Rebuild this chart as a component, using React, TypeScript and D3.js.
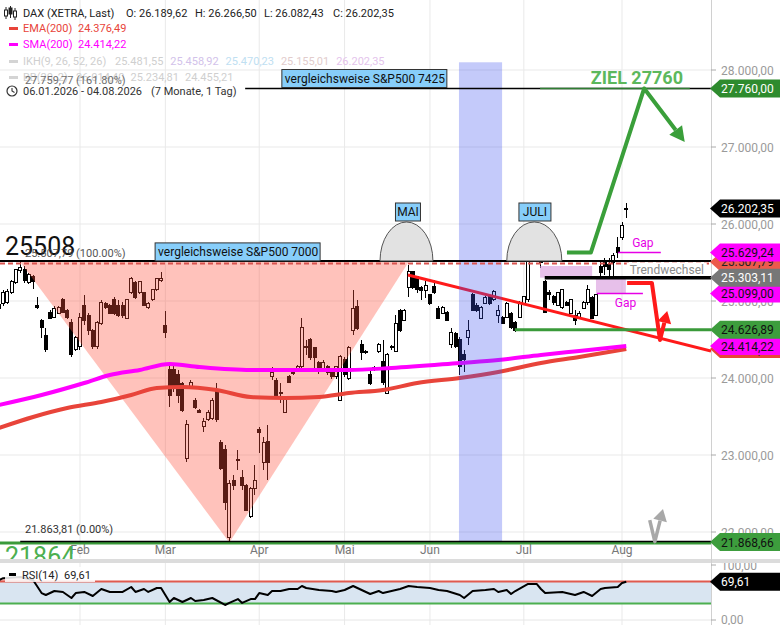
import React, { useEffect } from "react";
import * as d3 from "d3";

const FONT = "Roboto, 'Liberation Sans', Arial, sans-serif";

// ---- categories ----
const holidays = ["2026-04-03", "2026-04-06", "2026-05-01"];
const monthNames = ["Jan", "Feb", "Mar", "Apr", "Mai", "Jun", "Jul", "Aug", "Sep", "Okt", "Nov", "Dez"];

// ---- DAX daily candles [open, high, low, close] 06.01.2026 - 04.08.2026 ----
const ohlc: [number, number, number, number][] = [
  [24950, 25000, 24850, 24900], [24974, 25143, 24935, 25104], [24987, 25150, 24960, 25117], [25104, 25270, 25090, 25247],
  [25234, 25420, 25220, 25403], [25390, 25507.79, 25370, 25440], [25403, 25450, 25240, 25260], [25234, 25360, 25220, 25338],
  [25320, 25340, 25150, 25250], [24940, 25050, 24900, 24915], [24753, 24760, 24520, 24662], [24558, 24650, 24340, 24364],
  [24857, 24880, 24770, 24779], [24792, 24930, 24780, 24909], [24844, 24935, 24830, 24922], [25013, 25040, 24840, 24857],
  [24883, 24900, 24770, 24792], [24727, 24760, 24270, 24299], [24364, 24545, 24350, 24532], [24403, 24845, 24364, 24792],
  [24948, 25078, 24688, 24753], [24818, 24845, 24558, 24623], [24623, 24640, 24380, 24403], [24403, 24740, 24380, 24727],
  [24714, 25013, 24688, 24987], [24974, 24990, 24900, 24922], [24948, 24960, 24830, 24844], [25013, 25052, 24818, 24844],
  [24948, 25013, 24792, 24818], [24948, 24990, 24780, 24818], [24779, 25030, 24760, 25013], [25104, 25310, 25090, 25286],
  [25234, 25260, 25020, 25039], [25104, 25260, 25090, 25247], [25104, 25120, 24930, 24948], [24922, 24990, 24900, 24974],
  [25013, 25160, 25000, 25143], [25143, 25300, 25130, 25286], [25270, 25380, 25250, 25286], [24688, 24870, 24520, 24597],
  [24104, 24195, 23623, 23779], [24104, 24170, 23818, 23909], [24039, 24104, 23675, 23779], [23935, 23950, 23560, 23584],
  [22961, 23455, 22909, 23390], [23883, 23975, 23860, 23948], [23714, 23740, 23600, 23623], [23584, 23600, 23540, 23558],
  [23364, 23480, 23300, 23429], [23455, 23580, 23440, 23558], [23480, 23740, 23460, 23714], [23844, 23935, 23430, 23455],
  [23156, 23195, 22805, 22831], [23065, 23130, 22285, 22377], [21935, 22675, 21863.81, 22636], [22675, 22740, 22545, 22610],
  [22948, 23065, 22805, 22935], [22714, 22805, 22545, 22610], [22610, 22620, 22270, 22285], [22195, 22590, 22180, 22571],
  [22571, 22870, 22480, 22675], [23325, 23364, 23026, 23286], [22909, 23234, 22805, 23156], [23169, 23390, 22675, 22909],
  [24013, 24143, 23974, 24065], [23974, 24000, 23760, 23779], [23818, 23935, 23675, 23805], [23558, 23760, 23540, 23740],
  [24013, 24040, 23930, 23948], [24060, 24100, 24040, 24065], [24120, 24170, 24100, 24143], [24143, 24779, 24104, 24662],
  [24403, 24494, 24299, 24390], [24494, 24520, 24234, 24260], [24390, 24403, 24130, 24260], [24195, 24220, 24050, 24078],
  [24104, 24230, 24080, 24195], [24143, 24170, 24040, 24065], [24065, 24090, 23990, 24013], [24013, 24160, 23990, 24143],
  [23714, 24299, 23700, 24273], [24234, 24273, 24013, 24039], [24000, 24410, 23980, 24390], [24623, 25143, 24558, 24909],
  [24935, 25013, 24623, 24649], [24429, 24494, 24234, 24325], [24325, 24360, 24310, 24340], [24039, 24104, 23909, 23935],
  [24104, 24150, 24090, 24130], [24338, 24450, 24320, 24429], [24208, 24494, 23909, 23948], [23805, 24325, 23805, 24299],
  [24390, 24430, 24370, 24403], [24338, 24818, 24338, 24714], [24883, 24900, 24600, 24623], [24753, 24900, 24740, 24883],
  [25169, 25468, 25052, 25377], [25377, 25390, 25150, 25169], [25312, 25330, 25100, 25143], [25180, 25200, 25013, 25130],
  [25130, 25260, 25040, 25200], [25078, 25090, 24950, 24974], [25182, 25273, 25090, 25104], [24909, 24930, 24760, 24779],
  [24844, 24940, 24830, 24922], [24857, 24870, 24740, 24753], [24429, 24649, 24390, 24597], [24584, 24600, 24390, 24403],
  [24494, 24532, 24039, 24143], [24299, 24364, 24078, 24234], [24532, 24753, 24429, 24623], [25078, 25100, 24870, 24883],
  [24948, 24970, 24860, 24883], [24779, 24940, 24760, 24922], [24974, 25060, 24960, 25039], [25052, 25070, 24950, 24974],
  [25013, 25143, 25000, 25117], [24818, 24948, 24714, 24883], [24792, 24810, 24700, 24714], [24792, 24990, 24780, 24974],
  [24844, 24860, 24640, 24662], [24727, 24740, 24600, 24623], [24792, 25000, 24780, 24987], [24974, 25070, 24960, 25052],
  [25013, 25597, 24987, 25558], [25766, 25831, 25597, 25753], [25727, 25883, 25662, 25818], [25753, 25792, 25429, 25506],
  [25247, 25273, 24844, 24857], [25104, 25143, 25013, 25078], [25052, 25078, 24948, 24987], [24948, 25120, 24930, 25104],
  [24922, 25160, 24900, 25143], [24987, 25000, 24930, 24948], [24844, 25030, 24830, 25013], [24818, 24883, 24688, 24753],
  [24792, 24870, 24770, 24844], [24909, 25000, 24890, 24987], [24987, 25208, 24948, 25143], [25039, 25060, 24760, 24779],
  [24818, 25090, 24800, 25078], [25442, 25532, 25299, 25364], [25494, 25559, 25338, 25442], [25468, 25559, 25312, 25403],
  [25506, 25623, 25299, 25597], [25701, 25831, 25559, 25636], [25831, 26026, 25792, 25987], [26189.62, 26266.5, 26082.43, 26202.35],
];

// ---- indicators: [trading-day index, value] ----
const emaPts: [number, number][] = [
  [0, 23351], [8, 23494], [16, 23610], [24, 23688], [31, 23779], [37, 23870], [43, 23883], [51, 23844], [59, 23753],
  [67, 23740], [75, 23753], [82, 23805], [90, 23844], [98, 23935], [108, 24000], [117, 24078], [127, 24195], [136, 24273], [147, 24376.49],
];
const smaPts: [number, number][] = [
  [0, 23649], [10, 23779], [20, 23935], [26, 24039], [33, 24104], [40, 24182], [47, 24143], [59, 24104], [71, 24104],
  [82, 24104], [92, 24130], [108, 24195], [117, 24234], [127, 24299], [136, 24351], [147, 24414.22],
];
const rsiPts: [number, number][] = [
  [0, 72.7], [1, 76], [5, 78], [8, 72.7], [10, 49], [11, 45.5], [13, 52.7], [15, 51], [17, 40], [18, 49], [20, 51], [22, 43.6],
  [24, 56.4], [26, 51], [28, 51], [29, 51], [31, 60], [32, 51], [34, 56.4], [35, 51], [37, 58.2], [38, 58.2], [40, 32.7], [41, 40],
  [43, 32.7], [45, 40], [46, 34.5], [48, 36.4], [50, 40], [53, 27.3], [54, 31], [56, 38], [57, 31], [59, 38], [60, 38], [61, 49],
  [63, 45.5], [64, 52.7], [66, 52.7], [68, 56.4], [70, 56.4], [71, 61.8], [72, 58.2], [75, 54.5], [78, 52.7], [79, 51], [81, 54.5],
  [83, 61.8], [85, 54.5], [87, 47.3], [89, 52.7], [90, 49], [92, 52.7], [94, 56.4], [96, 61.8], [98, 60], [101, 58.2], [103, 54.5],
  [105, 52.7], [108, 45.5], [109, 40], [111, 52.7], [114, 54.5], [116, 56.4], [117, 51], [119, 54.5], [120, 47.3], [121, 52.7],
  [124, 65.5], [126, 65.5], [127, 56.4], [128, 49], [132, 51], [135, 45.5], [137, 51], [139, 43.6], [141, 56.4], [142, 58.2],
  [145, 60], [146, 67.3], [147, 69.61],
];

// ---- axes ----
const priceTicks = [22000, 23000, 24000, 25000, 26000, 27000, 28000];
const rsiTicks = [0, 100];
const rsiBands = [30, 70];

// ---- legend ----
const ikhValues = [25481.55, 25458.92, 25470.23, 25155.01, 26202.35];
const bbValues = [26014.4, 25234.81, 24455.21];

// ---- drawings (trading-day index, price) ----
const fibHigh: [number, number] = [5, 25507.79];
const fibLow: [number, number] = [54, 21863.81];
const fibExt = 27759.77;
const triangle: [number, number][] = [[5, 25507.79], [54, 21863.81], [96, 25507.79]];
const band = { i0: 107.8, i1: 117.9, top: 28100, bottom: 21868.66 };
const redTrend: [number, number][] = [[95.85, 25338], [166.85, 24351]];
const supportLevel = { v: 24626.89, i0: 120.9 };
const trendLevel = { v: 25303.11, i0: 127.9 };
const bottomLevel = 21868.66;
const zielLevel = { v: 27760, i0: 126.8, i1: 161.9 };
const greenPath: [number, number][] = [[133.1, 25629], [138.7, 25629], [151.2, 27760], [160.7, 27065]];
const redPath: [number, number][] = [[147.2, 25235], [153.0, 25235], [154.9, 24493], [156.6, 24870]];
const grayPath: [number, number][] = [[152.5, 22155], [153.7, 21875], [155.6, 22300]];
const gapLines = [{ i0: 145.1, i1: 155.1, v: 25629.24 }, { i0: 140.1, i1: 150.9, v: 25099 }];
const gapRects = [{ i0: 126.8, i1: 139.0, top: 25455, bottom: 25303.11 }, { i0: 139.9, i1: 146.9, top: 25290, bottom: 25099 }];
const arcs = [{ i0: 89.3, i1: 101.7, top: 26026, label: "MAI", li: 95.85 }, { i0: 119.0, i1: 131.9, top: 26026, label: "JULI", li: 125.6 }];
const spBoxes = [{ i0: 36.6, v: 25507.79, label: "vergleichsweise S&P500 7000" }, { i0: 66.3, v: 27759.77, label: "vergleichsweise S&P500 7425" }];
const markerValues = [24376.49, 24414.22, 24626.89, 25507.79, 25099.0, 25303.11, 25629.24, 26202.35, 27760.0, 21868.66];
const rsiLast = 69.61;

function tradingDays(): Date[] {
  const out: Date[] = [];
  const d = new Date(Date.UTC(2026, 0, 6));
  const end = Date.UTC(2026, 7, 4);
  while (d.getTime() <= end) {
    const wd = d.getUTCDay();
    const iso = d.toISOString().slice(0, 10);
    if (wd !== 0 && wd !== 6 && !holidays.includes(iso)) out.push(new Date(d.getTime()));
    d.setUTCDate(d.getUTCDate() + 1);
  }
  return out;
}

const loc = d3.formatLocale({ decimal: ",", thousands: ".", grouping: [3], currency: ["", ""] });
const fmt = loc.format(",.2f");

function arrow(pts: [number, number][], len: number, half: number) {
  const n = pts.length;
  const tip = pts[n - 1];
  const prev = pts[n - 2];
  const dx = tip[0] - prev[0], dy = tip[1] - prev[1];
  const L = Math.hypot(dx, dy);
  const ux = dx / L, uy = dy / L;
  const bx = tip[0] - ux * len, by = tip[1] - uy * len;
  const line = [...pts.slice(0, n - 1), [bx, by]];
  const head = [[tip[0], tip[1]], [bx - uy * half, by + ux * half], [bx + uy * half, by - ux * half]];
  return {
    line: line.map((p) => p.join(",")).join(" "),
    head: head.map((p) => p.join(",")).join(" "),
  };
}

export default function App() {
  useEffect(() => {
    document.body.style.margin = "0";
  }, []);

  const days = tradingDays();
  const PR = 711; // right edge of plot
  const MB = 558; // bottom of main panel
  const x = d3.scaleLinear().domain([0, 146]).range([-1.1, 622]);
  const y = d3.scaleLinear().domain([22000, 28000]).range([532, 70]);
  const yr = d3.scaleLinear().domain([0, 100]).range([620, 565]);

  const monthStarts = days
    .map((d, i) => ({ d, i }))
    .filter((o, k) => k > 0 && o.d.getUTCMonth() !== days[k - 1].getUTCMonth());

  const lineP = d3.line<[number, number]>().x((d) => x(d[0])).y((d) => y(d[1])).curve(d3.curveMonotoneX);
  const lineR = d3.line<[number, number]>().x((d) => x(d[0])).y((d) => yr(d[1])).curve(d3.curveLinear);
  const areaOver = d3
    .area<[number, number]>()
    .x((d) => x(d[0]))
    .y0(yr(70))
    .y1((d) => yr(Math.max(d[1], 70)));

  const px = (p: [number, number]): [number, number] => [x(p[0]), y(p[1])];
  const gA = arrow(greenPath.map(px), 15, 8);
  const rA = arrow(redPath.map(px), 12, 7);
  const grA = arrow(grayPath.map(px), 12, 7);

  const last = ohlc[ohlc.length - 1];
  const markerColors: Record<string, [string, string]> = {
    "24376.49": ["#e8443a", "#222"],
    "24414.22": ["#ff00ff", "#111"],
    "24626.89": ["#3d9d3d", "#111"],
    "25507.79": ["#ec5a4c", "#222"],
    "25099": ["#ff00ff", "#111"],
    "25303.11": ["#777777", "#fff"],
    "25629.24": ["#ff00ff", "#111"],
    "26202.35": ["#000000", "#fff"],
    "27760": ["#2e8b2e", "#fff"],
    "21868.66": ["#3d9d3d", "#111"],
  };

  const marker = (yy: number, bg: string, fg: string, text: string, key: string) => (
    <g key={key}>
      <path d={`M${PR - 1},${yy} L${PR + 9},${yy - 9} L780,${yy - 9} L780,${yy + 9} L${PR + 9},${yy + 9} Z`} fill={bg} />
      <text x={PR + 10} y={yy + 4.5} fontSize={12} fill={fg}>
        {text}
      </text>
    </g>
  );

  const triPts = triangle.map((p) => px(p).join(",")).join(" ");

  return (
    <svg
      width={780}
      height={625}
      style={{ position: "absolute", left: 0, top: 0, display: "block", background: "#fff" }}
      fontFamily={FONT}
    >
      <defs>
        <clipPath id="mainClip">
          <rect x={0} y={0} width={PR} height={MB + 4} />
        </clipPath>
        <clipPath id="rsiClip">
          <rect x={0} y={563} width={PR} height={62} />
        </clipPath>
      </defs>

      {/* grid */}
      {priceTicks.map((t) => (
        <line key={"hg" + t} x1={0} x2={PR} y1={y(t)} y2={y(t)} stroke="#e9e9e9" strokeWidth={1} />
      ))}
      {monthStarts.map((m) => (
        <g key={"vg" + m.i}>
          <line x1={x(m.i)} x2={x(m.i)} y1={0} y2={MB} stroke="#e9e9e9" strokeWidth={1} />
          <line x1={x(m.i)} x2={x(m.i)} y1={563} y2={625} stroke="#e9e9e9" strokeWidth={1} />
          <text x={x(m.i)} y={554} fontSize={12} fill="#777" textAnchor="middle">
            {monthNames[m.d.getUTCMonth()]}
          </text>
        </g>
      ))}

      <g clipPath="url(#mainClip)">
        {/* candles */}
        <g shapeRendering="crispEdges">
          {ohlc.map((c, i) => {
            const [o, h, l, cl] = c;
            const cx = x(i);
            const up = cl >= o;
            const top = y(Math.max(o, cl));
            const bot = y(Math.min(o, cl));
            return (
              <g key={"c" + i}>
                <line x1={cx} x2={cx} y1={y(h)} y2={y(l)} stroke="#000" strokeWidth={1} />
                <rect
                  x={cx - 1.5}
                  y={top}
                  width={3}
                  height={Math.max(1, bot - top)}
                  fill={up ? "#fff" : "#000"}
                  stroke="#000"
                  strokeWidth={1}
                />
              </g>
            );
          })}
        </g>

        {/* fib triangle */}
        <polygon points={triPts} fill="rgba(255,80,60,0.35)" />

        {/* gap rects */}
        {gapRects.map((r, k) => (
          <rect
            key={"gr" + k}
            x={x(r.i0)}
            y={y(r.top)}
            width={x(r.i1) - x(r.i0)}
            height={y(r.bottom) - y(r.top)}
            fill="rgba(215,150,220,0.6)"
          />
        ))}

        {/* moving averages */}
        <path d={lineP(emaPts) || ""} fill="none" stroke="#e8443a" strokeWidth={4} />
        <path d={lineP(smaPts) || ""} fill="none" stroke="#ff00ff" strokeWidth={4} />

        {/* trend line */}
        <line
          x1={x(redTrend[0][0])}
          y1={y(redTrend[0][1])}
          x2={x(redTrend[1][0])}
          y2={y(redTrend[1][1])}
          stroke="#ff1a1a"
          strokeWidth={3}
        />

        {/* blue band */}
        <rect
          x={x(band.i0)}
          y={y(band.top)}
          width={x(band.i1) - x(band.i0)}
          height={y(band.bottom) - y(band.top)}
          fill="rgba(60,80,240,0.3)"
        />

        {/* horizontal levels */}
        <line x1={0} x2={PR} y1={y(fibHigh[1]) - 1} y2={y(fibHigh[1]) - 1} stroke="#000" strokeWidth={2} />
        <line
          x1={0}
          x2={PR}
          y1={y(fibHigh[1]) + 1.5}
          y2={y(fibHigh[1]) + 1.5}
          stroke="#d9534f"
          strokeWidth={2}
          strokeDasharray="5,3"
        />
        <line x1={x(57.7)} x2={PR} y1={y(fibExt)} y2={y(fibExt)} stroke="#000" strokeWidth={1.3} />
        <line x1={x(zielLevel.i0)} x2={x(zielLevel.i1)} y1={y(zielLevel.v)} y2={y(zielLevel.v)} stroke="#2e7d32" strokeWidth={1.6} />
        <line x1={0} x2={PR} y1={y(bottomLevel) + 1} y2={y(bottomLevel) + 1} stroke="#3a9a3a" strokeWidth={3} />
        <line x1={x(fibHigh[0])} x2={PR} y1={y(fibLow[1]) - 1} y2={y(fibLow[1]) - 1} stroke="#000" strokeWidth={1.5} />
        <line x1={x(supportLevel.i0)} x2={PR} y1={y(supportLevel.v)} y2={y(supportLevel.v)} stroke="#3a9a3a" strokeWidth={3} />
        <line x1={x(trendLevel.i0)} x2={PR} y1={y(trendLevel.v)} y2={y(trendLevel.v)} stroke="#000" strokeWidth={3.5} />

        {/* gap lines */}
        {gapLines.map((g, k) => (
          <line key={"gl" + k} x1={x(g.i0)} x2={x(g.i1)} y1={y(g.v)} y2={y(g.v)} stroke="#e600e6" strokeWidth={1.5} />
        ))}
        <text x={x(gapLines[0].i0) + 14} y={y(gapLines[0].v) - 6} fontSize={12} fill="#e600e6">
          Gap
        </text>
        <text x={x(gapLines[1].i0) + 18} y={y(gapLines[1].v) + 14} fontSize={12} fill="#e600e6">
          Gap
        </text>

        {/* Trendwechsel */}
        <rect x={x(trendLevel.i0) + 82} y={y(trendLevel.v) - 15} width={80} height={13} fill="#fff" />
        <text x={x(trendLevel.i0) + 85} y={y(trendLevel.v) - 4} fontSize={12} fill="#8a8a8a">
          Trendwechsel
        </text>

        {/* arcs with month boxes */}
        {arcs.map((a, k) => {
          const x1 = x(a.i0), x2 = x(a.i1), yb = y(fibHigh[1]) - 1, yt = y(a.top);
          const rx = (x2 - x1) / 2, ry = yb - yt;
          const w = a.label.length * 7 + 4;
          const bx = x(a.li);
          return (
            <g key={"arc" + k}>
              <path d={`M${x1},${yb} A${rx},${ry} 0 0 1 ${x2},${yb} Z`} fill="#e2e2e2" stroke="#555" strokeWidth={1} />
              <rect x={bx - w / 2} y={yt - 19} width={w} height={18} fill="#87cefa" stroke="#333" strokeWidth={1} />
              <text x={bx} y={yt - 5.5} fontSize={12} fill="#111" textAnchor="middle">
                {a.label}
              </text>
            </g>
          );
        })}

        {/* S&P boxes */}
        {spBoxes.map((b, k) => (
          <g key={"sp" + k}>
            <rect x={x(b.i0)} y={y(b.v) - 19} width={165} height={18} fill="#87cefa" stroke="#333" strokeWidth={1} />
            <text x={x(b.i0) + 3} y={y(b.v) - 5.5} fontSize={12} fill="#111">
              {b.label}
            </text>
          </g>
        ))}

        {/* prediction arrows */}
        <polyline points={gA.line} fill="none" stroke="#3a9f3a" strokeWidth={4} strokeLinejoin="round" />
        <polygon points={gA.head} fill="#3a9f3a" />
        <polyline points={rA.line} fill="none" stroke="#ff1a1a" strokeWidth={4} strokeLinejoin="round" />
        <polygon points={rA.head} fill="#ff1a1a" />
        <polyline points={grA.line} fill="none" stroke="#a8a8a8" strokeWidth={3.5} strokeLinejoin="round" />
        <polygon points={grA.head} fill="#a8a8a8" />

        <text x={x(138.7)} y={y(zielLevel.v) - 4} fontSize={18} fontWeight="bold" fill="#5cb85c">
          ZIEL 27760
        </text>

        {/* fib labels */}
        <text x={5} y={y(fibHigh[1]) - 7} fontSize={25} fill="#111">
          25508
        </text>
        <text x={25} y={y(fibHigh[1]) - 5} fontSize={11} fill="#444" opacity={0.9}>
          {fmt(fibHigh[1])} (100.00%)
        </text>
        <text x={25} y={y(fibLow[1]) - 9} fontSize={11} fill="#333">
          {fmt(fibLow[1])} (0.00%)
        </text>
        <text x={5} y={y(bottomLevel) + 23} fontSize={25} fill="#4caf50">
          21864
        </text>
      </g>

      {/* legend */}
      <g fontSize={11}>
        <g stroke="#222" strokeWidth={1}>
          <line x1={6} x2={6} y1={7} y2={19} />
          <rect x={4.5} y={10} width={3} height={6} fill="#fff" />
          <line x1={10.5} x2={10.5} y1={6} y2={18} />
          <rect x={9} y={8} width={3} height={6} fill="#222" />
          <line x1={15} x2={15} y1={8} y2={20} />
          <rect x={13.5} y={11} width={3} height={6} fill="#fff" />
        </g>
        <text x={23} y={17} fill="#222">DAX (XETRA, Last)</text>
        <text x={126} y={17} fill="#222">O: {fmt(last[0])}</text>
        <text x={195} y={17} fill="#222">H: {fmt(last[1])}</text>
        <text x={264} y={17} fill="#222">L: {fmt(last[2])}</text>
        <text x={333} y={17} fill="#222">C: {fmt(last[3])}</text>

        <rect x={9} y={27} width={9} height={3} fill="#e8443a" />
        <text x={23} y={32} fill="#e8443a">EMA(200)</text>
        <text x={78} y={32} fill="#e8443a">{fmt(emaPts[emaPts.length - 1][1])}</text>

        <rect x={9} y={43} width={9} height={3} fill="#ff00ff" />
        <text x={23} y={48} fill="#ff00ff">SMA(200)</text>
        <text x={78} y={48} fill="#ff00ff">{fmt(smaPts[smaPts.length - 1][1])}</text>

        <rect x={9} y={60} width={9} height={3} fill="#d4d4d4" />
        <text x={23} y={65} fill="#cfcfcf">IKH(9, 26, 52, 26)</text>
        {ikhValues.map((v, k) => (
          <text key={"ikh" + k} x={115 + k * 55.3} y={65} fill={["#cfcfcf", "#d2c2ea", "#c0e0f2", "#e2cccc", "#e4c4ec"][k]}>
            {fmt(v)}
          </text>
        ))}

        <rect x={9} y={76} width={9} height={3} fill="#d4d4d4" />
        <text x={23} y={81} fill="#cfcfcf">BB(20, 2)</text>
        {bbValues.map((v, k) => (
          <text key={"bb" + k} x={76 + k * 54.5} y={81} fill="#cfcfcf">
            {fmt(v)}
          </text>
        ))}
        <text x={25} y={84} fill="#555" opacity={0.85}>
          {fmt(fibExt)} (161.80%)
        </text>

        <circle cx={12} cy={91} r={5} fill="none" stroke="#333" strokeWidth={1.2} />
        <polyline points="12,88 12,91 14.5,92.5" fill="none" stroke="#333" strokeWidth={1.1} />
        <text x={23} y={95} fill="#333">06.01.2026 - 04.08.2026</text>
        <text x={151} y={95} fill="#333">(7 Monate, 1 Tag)</text>
      </g>

      {/* separator */}
      <rect x={0} y={MB + 1} width={780} height={4} fill="#dcdcdc" />

      {/* RSI panel */}
      <g clipPath="url(#rsiClip)">
        <rect x={0} y={yr(70)} width={PR} height={yr(30) - yr(70)} fill="#d9e5f1" />
        <line x1={0} x2={PR} y1={yr(0)} y2={yr(0)} stroke="#e6e6e6" />
        <path d={areaOver(rsiPts) || ""} fill="#f6c3c3" />
        <line x1={0} x2={PR} y1={yr(rsiBands[1])} y2={yr(rsiBands[1])} stroke="#e05a4e" strokeWidth={2} />
        <line x1={0} x2={PR} y1={yr(rsiBands[0])} y2={yr(rsiBands[0])} stroke="#4caf50" strokeWidth={2} />
        <path d={lineR(rsiPts) || ""} fill="none" stroke="#000" strokeWidth={2} strokeLinejoin="round" />
        <rect x={5} y={567} width={90} height={15} fill="rgba(255,255,255,0.85)" />
        <rect x={9} y={573} width={7} height={3} fill="#000" />
        <text x={22} y={579} fontSize={11} fill="#222">RSI(14)</text>
        <text x={64} y={579} fontSize={11} fill="#222">{fmt(rsiLast)}</text>
      </g>

      {/* right axis */}
      <line x1={PR + 0.5} x2={PR + 0.5} y1={0} y2={625} stroke="#d0d0d0" />
      {priceTicks.map((t) => (
        <g key={"pt" + t}>
          <line x1={PR} x2={PR + 5} y1={y(t)} y2={y(t)} stroke="#aaa" />
          <text x={PR + 10} y={y(t) + 4.5} fontSize={12} fill="#9a9a9a">
            {fmt(t)}
          </text>
        </g>
      ))}
      {rsiTicks.map((t) => (
        <g key={"rt" + t}>
          <line x1={PR} x2={PR + 5} y1={yr(t)} y2={yr(t)} stroke="#aaa" />
          <text x={PR + 10} y={yr(t) + (t === 0 ? 3.5 : 4.5)} fontSize={12} fill="#9a9a9a">
            {fmt(t)}
          </text>
        </g>
      ))}
      <rect x={PR + 1} y={MB + 1} width={780 - PR} height={4} fill="#dcdcdc" />

      {/* price markers */}
      {markerValues.map((v) => {
        const c = markerColors[String(v)] || ["#888", "#fff"];
        return marker(y(v), c[0], c[1], fmt(v), "m" + v);
      })}
      {marker(yr(rsiLast), "#000", "#fff", fmt(rsiLast), "mr")}
    </svg>
  );
}
